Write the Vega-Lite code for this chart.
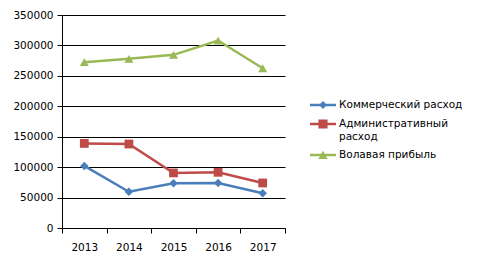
{
  "$schema": "https://vega.github.io/schema/vega-lite/v6.json",
  "autosize": "none",
  "width": 223,
  "height": 213,
  "padding": {"left": 62, "top": 15, "right": 199, "bottom": 30},
  "background": "white",
  "config": {
    "view": {"stroke": null},
    "font": "DejaVu Sans",
    "axis": {"labelFont": "DejaVu Sans", "labelFontSize": 10.5, "labelColor": "#000", "domainColor": "#000", "tickColor": "#000", "gridColor": "#000", "gridOpacity": 1, "titleFontSize": 0},
    "legend": {"orient": "none", "legendX": 248, "legendY": 77, "title": null, "padding": 0, "symbolSize": 676, "symbolStrokeWidth": 0, "labelOffset": 3, "rowPadding": -7, "labelFont": "DejaVu Sans", "labelFontSize": 10.5, "labelColor": "#000", "labelLimit": 200}
  },
  "data": {
    "values": [
      {"year": "2013", "series": "Коммерческий  расход", "value": 102000},
      {"year": "2014", "series": "Коммерческий  расход", "value": 59500},
      {"year": "2015", "series": "Коммерческий  расход", "value": 73500},
      {"year": "2016", "series": "Коммерческий  расход", "value": 74000},
      {"year": "2017", "series": "Коммерческий  расход", "value": 57000},
      {"year": "2013", "series": "Административный расход", "value": 139000},
      {"year": "2014", "series": "Административный расход", "value": 138000},
      {"year": "2015", "series": "Административный расход", "value": 90500},
      {"year": "2016", "series": "Административный расход", "value": 91500},
      {"year": "2017", "series": "Административный расход", "value": 74000},
      {"year": "2013", "series": "Волавая прибыль", "value": 272500},
      {"year": "2014", "series": "Волавая прибыль", "value": 278000},
      {"year": "2015", "series": "Волавая прибыль", "value": 284500},
      {"year": "2016", "series": "Волавая прибыль", "value": 308000},
      {"year": "2017", "series": "Волавая прибыль", "value": 262500}
    ]
  },
  "encoding": {
    "x": {
      "field": "year", "type": "ordinal", "bandPosition": 0.5,
      "scale": {"type": "band", "paddingInner": 0, "paddingOuter": 0},
      "axis": {"title": null, "labelAngle": 0, "tickBand": "extent", "tickSize": 5, "labelPadding": 9, "domain": true, "grid": false}
    },
    "y": {
      "field": "value", "type": "quantitative",
      "scale": {"domain": [0, 350000], "nice": false},
      "axis": {"title": null, "values": [0, 50000, 100000, 150000, 200000, 250000, 300000, 350000], "format": "d", "tickSize": 5, "labelPadding": 4, "grid": true, "gridWidth": 1}
    },
    "color": {
      "field": "series", "type": "nominal",
      "scale": {"domain": ["Коммерческий  расход", "Административный расход", "Волавая прибыль"], "range": ["#4a7ebb", "#be4b48", "#98b954"]},
      "legend": null
    }
  },
  "layer": [
    {
      "mark": {"type": "line", "strokeWidth": 2.5}
    },
    {
      "mark": {"type": "point", "filled": true, "opacity": 1},
      "encoding": {
        "shape": {
          "field": "series", "type": "nominal",
          "scale": {"domain": ["Коммерческий  расход", "Административный расход", "Волавая прибыль"], "range": ["diamond", "square", "triangle-up"]},
          "legend": null
        },
        "size": {
          "field": "series", "type": "nominal",
          "scale": {"domain": ["Коммерческий  расход", "Административный расход", "Волавая прибыль"], "range": [72, 82, 115]},
          "legend": null
        }
      }
    },
    {
      "transform": [{"filter": "false"}],
      "mark": {"type": "point", "filled": true, "opacity": 1, "size": 676, "strokeWidth": 0},
      "encoding": {
        "color": {
          "field": "series", "type": "nominal",
          "scale": {"domain": ["Коммерческий  расход", "Административный расход", "Волавая прибыль"], "range": ["#4a7ebb", "#be4b48", "#98b954"]},
          "legend": {
            "labelExpr": "datum.label == 'Административный расход' ? ['Административный', 'расход'] : datum.label",
            "encode": {"labels": {"lineHeight": {"value": 17}}}
          }
        },
        "shape": {
          "field": "series", "type": "nominal",
          "scale": {"domain": ["Коммерческий  расход", "Административный расход", "Волавая прибыль"], "range": [
            "M-1,-0.09 L-0.21,-0.09 L0,-0.3 L0.21,-0.09 L1,-0.09 L1,0.09 L0.21,0.09 L0,0.3 L-0.21,0.09 L-1,0.09 Z",
            "M-1,-0.09 L-0.35,-0.09 L-0.35,-0.35 L0.35,-0.35 L0.35,-0.09 L1,-0.09 L1,0.09 L0.35,0.09 L0.35,0.35 L-0.35,0.35 L-0.35,0.09 L-1,0.09 Z",
            "M-1,-0.09 L-0.133,-0.09 L0,-0.33 L0.133,-0.09 L1,-0.09 L1,0.09 L0.233,0.09 L0.35,0.3 L-0.35,0.3 L-0.233,0.09 L-1,0.09 Z"
          ]},
          "legend": {
            "labelExpr": "datum.label == 'Административный расход' ? ['Административный', 'расход'] : datum.label",
            "encode": {"labels": {"lineHeight": {"value": 17}}}
          }
        }
      }
    }
  ],
  "resolve": {"scale": {"shape": "independent", "size": "independent", "color": "independent"}}
}
